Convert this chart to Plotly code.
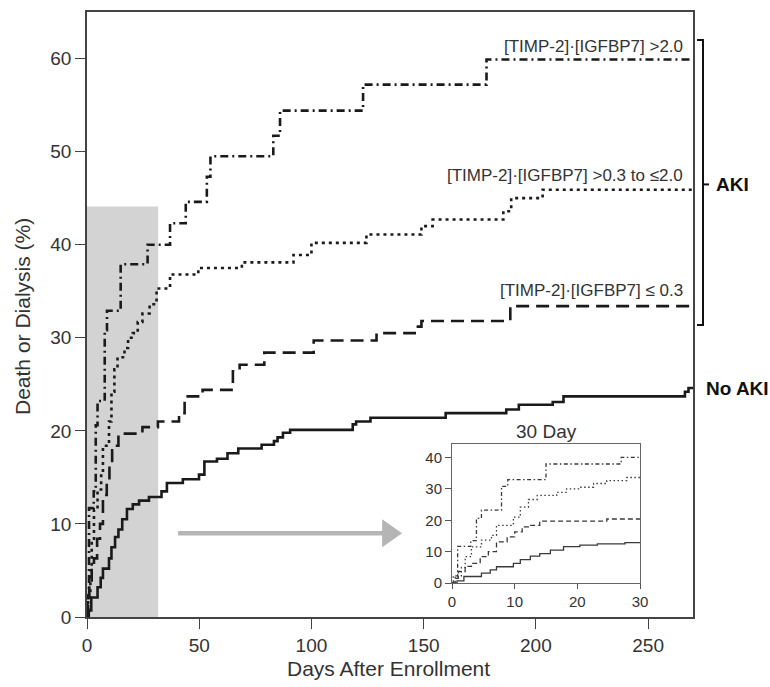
import plotly.graph_objects as go

# ---------------- data ----------------
days_high = [0, 0.2, 0.9, 3.0, 3.9, 4.7, 7.9, 8.9, 15.0, 27.0, 37.0, 44.0, 53.4, 55.0, 83.0, 86.0, 123.0, 178.0, 270.0]
pct_high = [0, 2.3, 11.7, 13.5, 20.6, 23.2, 30.8, 32.9, 37.9, 40.0, 42.3, 44.6, 47.3, 49.5, 51.7, 54.4, 57.2, 59.9, 59.9]

days_mid = [0, 0.5, 1.5, 2.1, 3.1, 4.7, 6.3, 7.1, 9.8, 10.9, 12.2, 13.6, 16.7, 18.3, 20.4, 22.6, 24.7, 27.9,
            31.0, 37.0, 49.6, 69.0, 92.0, 100.0, 124.5, 149.0, 154.0, 185.5, 189.0, 203.0, 270.0]
pct_mid = [0, 2.1, 5.0, 8.4, 11.5, 13.7, 15.2, 18.4, 21.0, 24.2, 26.6, 27.9, 28.9, 30.0, 30.5, 31.7, 32.6, 33.6,
           35.3, 36.8, 37.5, 38.1, 38.9, 40.2, 41.1, 42.0, 42.7, 43.6, 45.0, 45.9, 45.9]

days_low = [0, 0.5, 1.0, 2.1, 3.1, 4.5, 5.8, 7.1, 8.8, 10.0, 11.2, 12.2, 14.0, 24.7, 31.6, 41.0, 43.5, 51.5,
            65.0, 68.0, 79.0, 101.0, 129.0, 146.0, 149.0, 188.6, 270.0]
pct_low = [0, 1.5, 3.7, 5.3, 6.3, 8.4, 10.0, 13.1, 14.7, 16.3, 17.9, 18.4, 19.7, 20.4, 21.0, 21.9, 23.7, 24.4,
           26.4, 27.1, 28.4, 29.7, 30.5, 31.2, 31.8, 33.4, 33.4]

days_noaki = [0, 0.8, 1.9, 4.7, 6.1, 7.1, 9.8, 10.9, 12.5, 14.0, 15.7, 17.8, 20.4, 23.2, 27.6, 33.2, 35.6, 42.7,
              49.9, 52.3, 57.9, 62.6, 67.4, 77.8, 83.3, 84.9, 87.3, 90.5, 118.4, 119.9, 126.3, 159.8, 186.8,
              192.4, 207.5, 212.3, 266.4, 268.0, 270.0]
pct_noaki = [0, 0.7, 2.1, 3.2, 4.2, 5.2, 6.3, 7.5, 8.6, 9.4, 10.5, 11.6, 12.1, 12.5, 12.9, 13.5, 14.4, 14.8,
             15.3, 16.7, 17.0, 17.6, 18.1, 18.5, 18.9, 19.3, 19.8, 20.1, 20.7, 21.0, 21.4, 21.9, 22.3,
             22.8, 23.1, 23.7, 24.2, 24.6, 24.6]

series_labels = ["[TIMP-2]·[IGFBP7] >2.0", "[TIMP-2]·[IGFBP7] >0.3 to ≤2.0", "[TIMP-2]·[IGFBP7] ≤ 0.3", "No AKI"]

main_xticks = [0, 50, 100, 150, 200, 250]
main_yticks = [0, 10, 20, 30, 40, 50, 60]
inset_xticks = [0, 10, 20, 30]
inset_yticks = [0, 10, 20, 30, 40]

# ---------------- styling ----------------
FONT = "Liberation Sans, Arial, Helvetica, sans-serif"
TXT = "#333333"
LINE = "#1a1a1a"
series = [
    (days_high, pct_high, "8px,4px,2px,4px", "4px,2.5px,1.5px,2.5px"),
    (days_mid, pct_mid, "3px,4px", "1.5px,2.5px"),
    (days_low, pct_low, "13px,7px", "5px,3px"),
    (days_noaki, pct_noaki, "solid", "solid"),
]

fig = go.Figure()
for (dx, py, dash_main, dash_in), name in zip(series, series_labels):
    fig.add_trace(go.Scatter(x=dx, y=py, mode="lines", line=dict(shape="hv", color=LINE, width=2.6, dash=dash_main),
                             name=name, showlegend=False, hoverinfo="skip"))
for (dx, py, dash_main, dash_in), name in zip(series, series_labels):
    fig.add_trace(go.Scatter(x=dx, y=py, mode="lines", xaxis="x2", yaxis="y2",
                             line=dict(shape="hv", color="#3a3a3a", width=1.3, dash=dash_in),
                             name=name, showlegend=False, hoverinfo="skip"))

W, H = 770, 687
L, R, T, B = 87, 77, 10, 70

fig.update_layout(
    width=W, height=H, margin=dict(l=L, r=R, t=T, b=B),
    paper_bgcolor="white", plot_bgcolor="white",
    font=dict(family=FONT, color=TXT, size=19),
    xaxis=dict(range=[0, 270], tickvals=main_xticks, ticks="outside", ticklen=10, tickwidth=1.2, tickcolor="#444",
               showline=True, linecolor="#444", linewidth=1.5, mirror=True, showgrid=False, zeroline=False,
               tickfont=dict(size=19, color=TXT), domain=[0, 1]),
    yaxis=dict(range=[0, 65], tickvals=main_yticks, ticks="outside", ticklen=10, tickwidth=1.2, tickcolor="#444",
               showline=True, linecolor="#444", linewidth=1.5, mirror=True, showgrid=False, zeroline=False,
               tickfont=dict(size=19, color=TXT), domain=[0, 1]),
    xaxis2=dict(range=[0, 30], tickvals=inset_xticks, ticks="outside", ticklen=5, tickcolor="#555",
                showline=True, linecolor="#666", linewidth=1, mirror=True, showgrid=False, zeroline=False,
                tickfont=dict(size=15, color=TXT), anchor="y2",
                domain=[(452 - L) / (W - L - R), (640 - L) / (W - L - R)]),
    yaxis2=dict(range=[0, 44.4], tickvals=inset_yticks, ticks="outside", ticklen=6, tickcolor="#555",
                showline=True, linecolor="#666", linewidth=1, mirror=True, showgrid=False, zeroline=False,
                tickfont=dict(size=15, color=TXT), anchor="x2",
                domain=[(H - B - 583) / (H - T - B), (H - B - 443) / (H - T - B)]),
)

PW, PH = W - L - R, H - T - B
def px(xp):
    return (xp - L) / PW
def py_(yp):
    return (H - B - yp) / PH

shapes = [
    # shaded first-30-days window
    dict(type="rect", xref="x", yref="y", x0=0, x1=31.7, y0=0, y1=44.1, fillcolor="#d3d3d3",
         line=dict(width=0), layer="below"),
    # inset background
    dict(type="rect", xref="x2 domain", yref="y2 domain", x0=0, x1=1, y0=0, y1=1, fillcolor="#d3d3d3",
         line=dict(width=0), layer="below"),
    # arrow shaft
    dict(type="line", xref="x", yref="y", x0=40.6, x1=132, y0=9.0, y1=9.0, line=dict(color="#b5b5b5", width=4.5)),
    # arrow head
    dict(type="path", xref="x", yref="y", path="M 131.5 10.5 L 140.4 9.0 L 131.5 7.5 Z",
         fillcolor="#b5b5b5", line=dict(width=0)),
    # AKI bracket
    dict(type="path", xref="paper", yref="paper",
         path=f"M {px(697)} {py_(38)} L {px(703)} {py_(38)} L {px(703)} {py_(324)} L {px(697)} {py_(324)}",
         line=dict(color="#111", width=2)),
    dict(type="line", xref="paper", yref="paper", x0=px(703), x1=px(709), y0=py_(183), y1=py_(183),
         line=dict(color="#111", width=2)),
]
fig.update_layout(shapes=shapes)

ann = [
    dict(text=series_labels[0], x=px(685), y=py_(45), xanchor="right", yanchor="middle"),
    dict(text=series_labels[1], x=px(685), y=py_(174), xanchor="right", yanchor="middle"),
    dict(text=series_labels[2], x=px(685), y=py_(289), xanchor="right", yanchor="middle"),
]
annotations = []
for a in ann:
    a.update(xref="paper", yref="paper", showarrow=False, font=dict(size=17, color=TXT, family=FONT))
    annotations.append(a)
annotations += [
    dict(text="<b>AKI</b>", x=px(714), y=py_(183), xanchor="left", yanchor="middle", xref="paper", yref="paper",
         showarrow=False, font=dict(size=19, color="#111", family=FONT)),
    dict(text="<b>" + series_labels[3] + "</b>", x=px(704), y=py_(388), xanchor="left", yanchor="middle",
         xref="paper", yref="paper", showarrow=False, font=dict(size=19, color="#111", family=FONT)),
    dict(text="30 Day", x=px(546), y=py_(431), xanchor="center", yanchor="middle", xref="paper", yref="paper",
         showarrow=False, font=dict(size=19, color=TXT, family=FONT)),
    dict(text="Death or Dialysis (%)", x=px(23), y=py_(316), textangle=-90, xanchor="center", yanchor="middle",
         xref="paper", yref="paper", showarrow=False, font=dict(size=21, color=TXT, family=FONT)),
    dict(text="Days After Enrollment", x=px(388), y=py_(669), xanchor="center", yanchor="middle",
         xref="paper", yref="paper", showarrow=False, font=dict(size=21, color=TXT, family=FONT)),
]
fig.update_layout(annotations=annotations)

fig.write_html("out.html", config={"displayModeBar": False},
               post_script="document.body.style.margin='0';document.body.style.overflow='hidden';")
